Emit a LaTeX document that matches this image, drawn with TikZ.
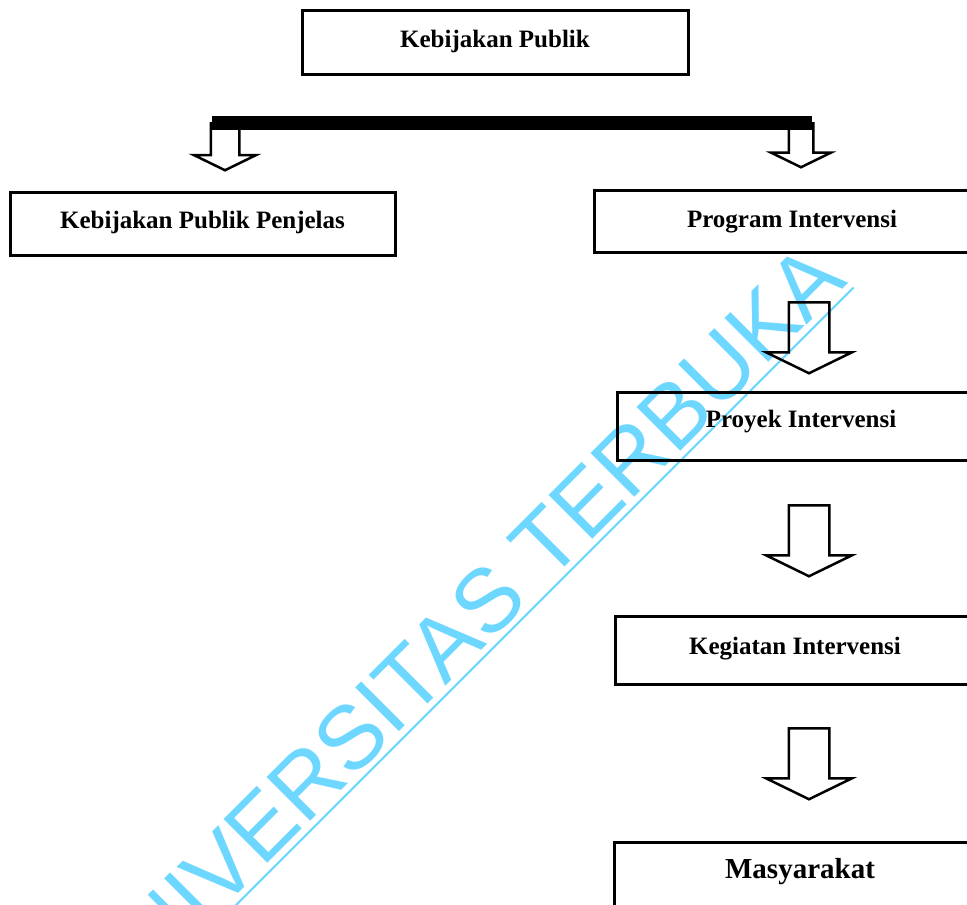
\documentclass[tikz,border=0pt]{standalone}
\usepackage{fontspec}
\setmainfont{Liberation Serif}
\newfontfamily\wmfont{Liberation Sans}
\usetikzlibrary{shapes.arrows}
\definecolor{wmblue}{RGB}{110,215,255}

\tikzset{
  box/.style={draw, line width=3pt, inner sep=0pt, text height=17pt,
    font=\fontsize{25}{30}\selectfont\bfseries},
  down/.style={draw, line width=2.5pt, single arrow, shape border rotate=270,
    anchor=tail, single arrow tip angle=128, inner sep=#1},
}

\begin{document}
\begin{tikzpicture}[x=1pt,y=-1pt]
\useasboundingbox (0,0) rectangle (967,905);
\clip (0,0) rectangle (967,905);

% watermark
\node[wmblue, rotate=45, inner xsep=0pt, inner ysep=5.5pt,
  font=\wmfont\fontsize{90}{90}\selectfont] (wm) at (458,630) {UNIVERSITAS TERBUKA};
\draw[wmblue, line width=2pt] (wm.south west) -- (wm.south east);

\node[box, minimum width=386pt, minimum height=64pt, text depth=7pt] (kp) at (495,42) {Kebijakan Publik};
\node[box, minimum width=385pt, minimum height=63pt, text depth=8pt] (kpp) at (202.5,223.5) {Kebijakan Publik Penjelas};
\node[box, minimum width=396pt, minimum height=62pt, text depth=5pt] (prog) at (792,221) {Program Intervensi};
\node[box, minimum width=368pt, minimum height=68pt, text depth=15pt] (proy) at (801,426) {Proyek Intervensi};
\node[box, minimum width=360pt, minimum height=68pt, text depth=9pt] (keg) at (795,650.5) {Kegiatan Intervensi};
\node[box, minimum width=372pt, minimum height=68pt, text height=19.5pt, text depth=15.5pt,
  font=\fontsize{29}{34}\selectfont\bfseries] (mas) at (800,876) {Masyarakat};

% split from the bar
\node[down=13pt, single arrow head extend=17pt, minimum height=47pt] (a1) at (225,122) {};
\node[down=11pt, single arrow head extend=17.5pt, minimum height=44pt] (a2) at (801,122) {};
\coordinate (barL) at (212,123);
\coordinate (barR) at (812,123);
\draw[line width=14pt] (barL) -- (barR);

\foreach \n/\y in {3/301,4/504,5/727}
  \node[down=19pt, single arrow head extend=22.5pt, minimum height=71pt] (a\n) at (809,\y) {};
\end{tikzpicture}
\end{document}
